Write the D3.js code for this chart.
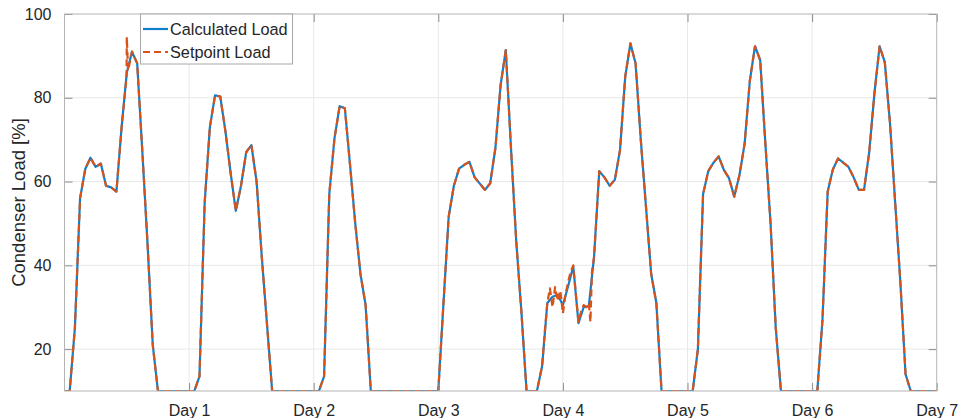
<!DOCTYPE html>
<html lang="en">
<head>
<meta charset="utf-8">
<title>Condenser Load</title>
<script src="https://d3js.org/d3.v7.min.js"></script>
<style>
  body { margin: 0; background: #fff; }
  text { font-family: "Liberation Sans", Arial, sans-serif; }
</style>
</head>
<body>
<div id="chart"></div>
<script>
// hourly samples over one week (hour 0 .. 168)
var calculatedLoad = [
  10, 10, 25, 56, 63, 65.7, 63.5, 64.3, 59, 58.6, 57.6, 73, 86, 91, 88.2, 67, 45, 21, 10, 10, 10, 10, 10, 10,
  10, 10, 13.5, 55, 73, 80.6, 80.3, 72, 62, 53, 59, 67, 68.7, 60, 42, 26, 10, 10, 10, 10, 10, 10, 10, 10,
  10, 10, 13.5, 57, 70.3, 78, 77.5, 64, 50, 38, 30.5, 10, 10, 10, 10, 10, 10, 10, 10, 10, 10, 10, 10, 10,
  10, 31, 51.6, 59, 63.1, 64, 64.7, 61, 59.5, 58, 59.6, 68, 83, 91.4, 68, 46, 29, 10, 10, 10, 16, 31, 32.5, 33,
  30.5, 35, 39.7, 26.2, 30, 30.3, 42, 62.5, 61, 59, 60.4, 67.5, 85, 93, 88.2, 70, 54, 38, 31, 10, 10, 10, 10, 10,
  10, 10, 20, 57, 62.5, 64.5, 66, 62.8, 60.8, 56.4, 61.5, 69, 84, 92.3, 89, 69, 50, 25, 10, 10, 10, 10, 10, 10,
  10, 10, 27, 57.6, 62.9, 65.5, 64.5, 63.5, 61, 58, 58, 67, 81, 92.3, 88.5, 74, 55, 36, 14, 10, 10, 10, 10, 10,
  10
];
var setpointLoad = [
  10, 10, 25, 56, 63, 65.7, 63.5, 64.3, 59, 58.6, 57.6, 73, 94.5, 91, 88.2, 67, 45, 21, 10, 10, 10, 10, 10, 10,
  10, 10, 13.5, 55, 73, 80.6, 80.3, 72, 62, 53, 59, 67, 68.7, 60, 42, 26, 10, 10, 10, 10, 10, 10, 10, 10,
  10, 10, 13.5, 57, 70.3, 78, 77.5, 64, 50, 38, 30.5, 10, 10, 10, 10, 10, 10, 10, 10, 10, 10, 10, 10, 10,
  10, 31, 51.6, 59, 63.1, 64, 64.7, 61, 59.5, 58, 59.6, 68, 83, 91.4, 68, 46, 29, 10, 10, 10, 16, 31, 30, 31.5,
  28.5, 36, 40, 26.5, 30.5, 31, 42, 62.5, 61, 59, 60.4, 67.5, 85, 93, 88.2, 70, 54, 38, 31, 10, 10, 10, 10, 10,
  10, 10, 20, 57, 62.5, 64.5, 66, 62.8, 60.8, 56.4, 61.5, 69, 84, 92.3, 89, 69, 50, 25, 10, 10, 10, 10, 10, 10,
  10, 10, 27, 57.6, 62.9, 65.5, 64.5, 63.5, 61, 58, 58, 67, 81, 92.3, 88.5, 74, 55, 36, 14, 10, 10, 10, 10, 10,
  10
];
// extra sub-hourly setpoint samples (spike on day 1, noise around day 4)
var setpointExtraHours  = [11.95, 12.25, 92.5, 93.5, 94.5, 95.5, 96.5, 97.5, 98.5, 99.5, 100.5, 101.3, 101.6];
var setpointExtraValues = [85, 86.5, 24, 34.5, 34.8, 34, 33, 38.5, 33, 29, 30, 26.5, 38.5];

var dayTicks  = [24, 48, 72, 96, 120, 144, 168];
var dayLabels = ["Day 1", "Day 2", "Day 3", "Day 4", "Day 5", "Day 6", "Day 7"];
var loadTicks = [20, 40, 60, 80, 100];

var seriesNames  = ["Calculated Load", "Setpoint Load"];
var seriesColors = ["#0f7fcc", "#D95319"];

var w = 959, h = 418;
var pLeft = 64.5, pRight = 936.7, pTop = 14, pBottom = 391;

var xScale = d3.scaleLinear().domain([0, 168]).range([pLeft, pRight]);
var yScale = d3.scaleLinear().domain([10, 100]).range([pBottom, pTop]);

var svg = d3.select("#chart").append("svg")
  .attr("width", w).attr("height", h);

// grid
svg.append("g").selectAll("line").data(dayTicks.slice(0, -1)).enter().append("line")
  .attr("x1", d => xScale(d)).attr("x2", d => xScale(d))
  .attr("y1", pTop).attr("y2", pBottom)
  .attr("stroke", "#e8e8e8").attr("stroke-width", 1);
svg.append("g").selectAll("line").data(loadTicks.slice(0, -1)).enter().append("line")
  .attr("x1", pLeft).attr("x2", pRight)
  .attr("y1", d => yScale(d)).attr("y2", d => yScale(d))
  .attr("stroke", "#e8e8e8").attr("stroke-width", 1);

// data
var calcPoints = calculatedLoad.map((v, i) => [i, v]);
var spPoints = setpointLoad.map((v, i) => [i, v])
  .concat(setpointExtraHours.map((t, i) => [t, setpointExtraValues[i]]))
  .sort((a, b) => a[0] - b[0]);

svg.append("clipPath").attr("id", "plotclip").append("rect")
  .attr("x", pLeft).attr("y", pTop).attr("width", pRight - pLeft).attr("height", pBottom - pTop);

var line = d3.line().x(d => xScale(d[0])).y(d => yScale(d[1]));

var plot = svg.append("g").attr("clip-path", "url(#plotclip)");
plot.append("path").datum(calcPoints)
  .attr("d", line).attr("fill", "none")
  .attr("stroke", seriesColors[0]).attr("stroke-width", 2.2)
  .attr("stroke-linejoin", "round");
plot.append("path").datum(spPoints)
  .attr("d", line).attr("fill", "none")
  .attr("stroke", seriesColors[1]).attr("stroke-width", 2.2)
  .attr("stroke-dasharray", "7,4")
  .attr("stroke-linejoin", "round");

// axes
var xAxis = d3.axisBottom(xScale).tickValues(dayTicks)
  .tickFormat((d, i) => dayLabels[i]).tickSizeInner(-8).tickSizeOuter(0).tickPadding(14);
var yAxis = d3.axisLeft(yScale).tickValues(loadTicks)
  .tickSizeInner(-8).tickSizeOuter(0).tickPadding(13);

var gx = svg.append("g").attr("transform", "translate(0," + pBottom + ")").call(xAxis);
var gy = svg.append("g").attr("transform", "translate(" + pLeft + ",0)").call(yAxis);
var gxTop = svg.append("g").attr("transform", "translate(0," + pTop + ")")
  .call(d3.axisTop(xScale).tickValues(dayTicks).tickFormat("").tickSizeInner(-8).tickSizeOuter(0));
var gyRight = svg.append("g").attr("transform", "translate(" + pRight + ",0)")
  .call(d3.axisRight(yScale).tickValues(loadTicks).tickFormat("").tickSizeInner(-8).tickSizeOuter(0));

[gx, gy, gxTop, gyRight].forEach(function(g) {
  g.select(".domain").remove();
  g.selectAll(".tick line").attr("stroke", "#8c8c8c");
  g.selectAll(".tick text").attr("fill", "#262626").style("font-size", "16px")
    .style("font-family", "'Liberation Sans', Arial, sans-serif");
});

// box
svg.append("rect")
  .attr("x", pLeft).attr("y", pTop).attr("width", pRight - pLeft).attr("height", pBottom - pTop)
  .attr("fill", "none").attr("stroke", "#b4b4b4").attr("stroke-width", 1);

// y label
svg.append("text")
  .attr("transform", "translate(25," + ((pTop + pBottom) / 2) + ") rotate(-90)")
  .attr("text-anchor", "middle")
  .attr("fill", "#262626")
  .style("font-size", "18.5px")
  .text("Condenser Load [%]");

// legend
var lg = svg.append("g");
lg.append("rect")
  .attr("x", 140.5).attr("y", pTop).attr("width", 152).attr("height", 50)
  .attr("fill", "#fff").attr("stroke", "#a8a8a8").attr("stroke-width", 1);
seriesNames.forEach(function(name, i) {
  var yy = 29 + i * 23;
  lg.append("line")
    .attr("x1", 143).attr("x2", 168).attr("y1", yy).attr("y2", yy)
    .attr("stroke", seriesColors[i]).attr("stroke-width", 2.2)
    .attr("stroke-dasharray", i === 1 ? "7,4" : null);
  lg.append("text")
    .attr("x", 170).attr("y", yy + 6)
    .attr("fill", "#262626").style("font-size", "16.3px")
    .text(name);
});
</script>
</body>
</html>
